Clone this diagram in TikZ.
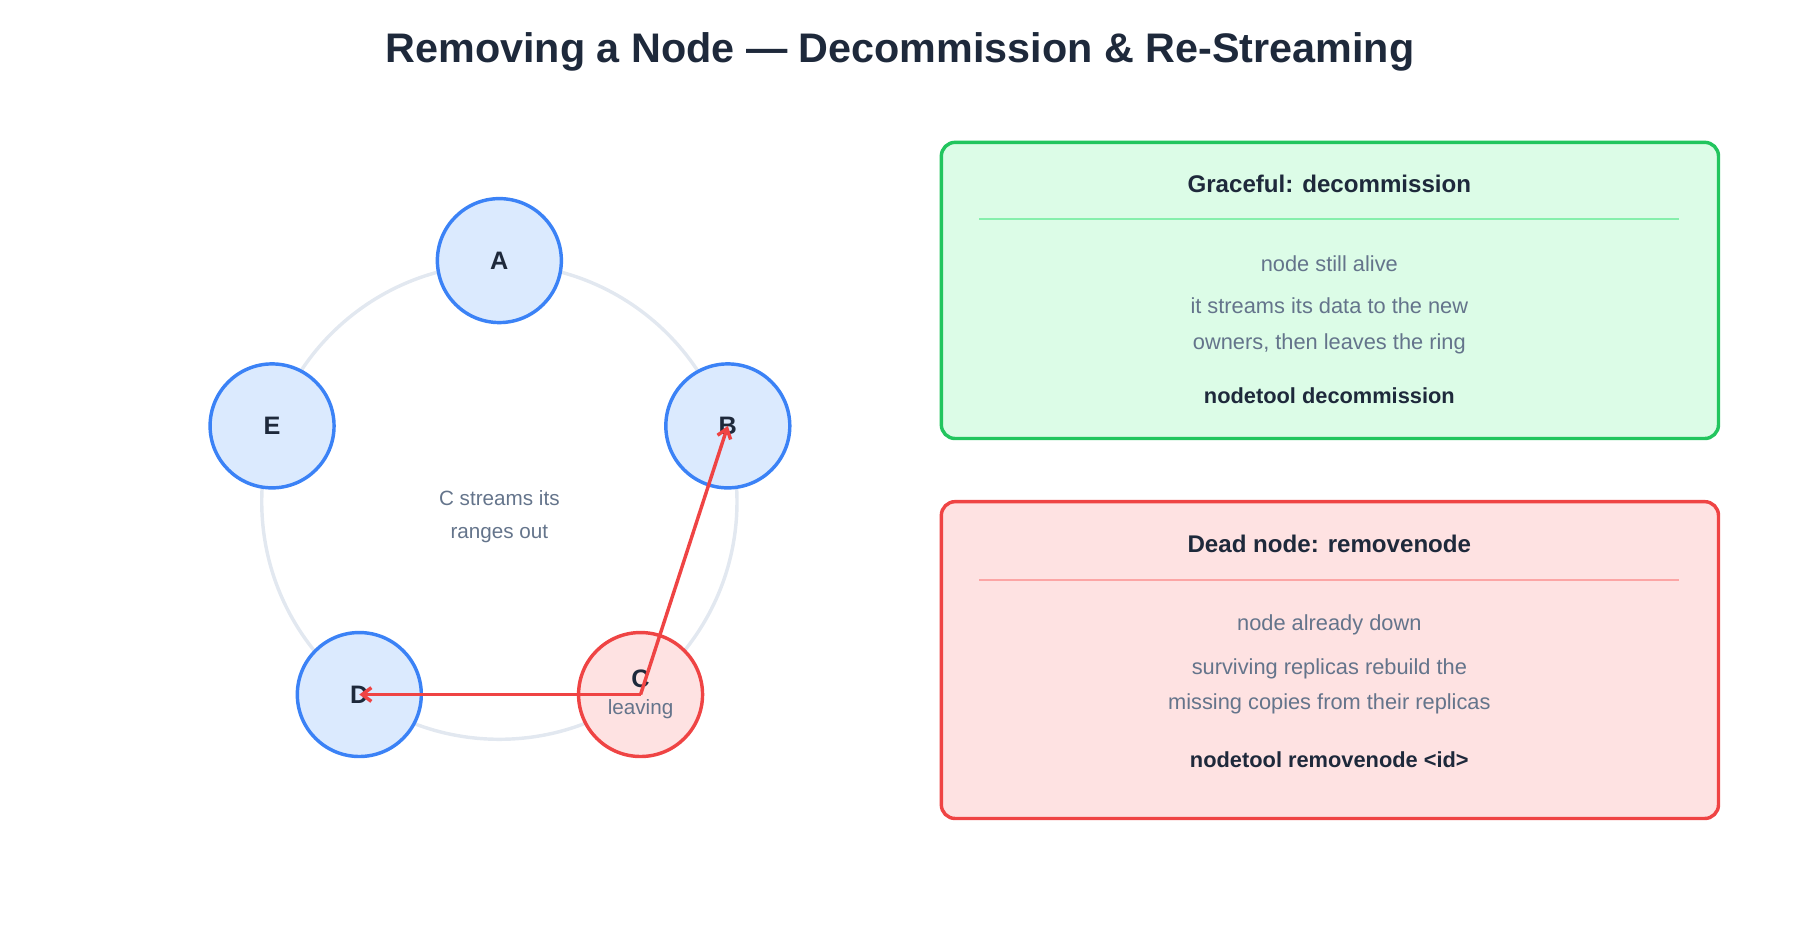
\documentclass[tikz,border=0pt]{standalone}
\usepackage{fontspec}
\setmainfont{Liberation Sans}
\usetikzlibrary{arrows.meta}
\definecolor{ringGray}{HTML}{E2E8F0}
\definecolor{nodeBlue}{HTML}{3B82F6}
\definecolor{nodeBlueFill}{HTML}{DBEAFE}
\definecolor{nodeRed}{HTML}{EF4444}
\definecolor{nodeRedFill}{HTML}{FEE2E2}
\definecolor{boxGreen}{HTML}{22C55E}
\definecolor{boxGreenFill}{HTML}{DCFCE7}
\definecolor{ruleGreen}{HTML}{86EFAC}
\definecolor{ruleRed}{HTML}{FCA5A5}
\definecolor{textGray}{HTML}{64748B}
\definecolor{textDark}{HTML}{1E293B}
\begin{document}
\begin{tikzpicture}[x=1pt, y=-1pt,
    ringNode/.style={circle, draw=nodeBlue, fill=nodeBlueFill, line width=3pt, minimum size=108pt, inner sep=0pt, font=\fontsize{22}{26}\selectfont\bfseries, text=textDark},
    leaveNode/.style={ringNode, draw=nodeRed, fill=nodeRedFill},
    stream/.style={draw=nodeRed, line width=3pt, -{Straight Barb[length=8pt, width=12pt]}},
    infoBox/.style={rounded corners=12pt, line width=3pt},
    boxTitle/.style={font=\fontsize{21}{25}\selectfont\bfseries, text=textDark},
    boxText/.style={font=\fontsize{19}{31}\selectfont, text=textGray, align=center},
    boxCmd/.style={font=\fontsize{19}{23}\selectfont\bfseries, text=textDark}]
    \useasboundingbox (0,0) rectangle (1568,819);

    \node[font=\fontsize{36}{40}\selectfont\bfseries, text=textDark] (title) at (784,45) {Removing a Node — Decommission \& Re-Streaming};

    % ring
    \draw[ringGray, line width=3pt] (435,437) circle (207);
    \node[ringNode] (A) at (435,227) {A};
    \node[ringNode] (B) at (634,371) {B};
    \node[leaveNode, align=center] (C) at (558,605) {C\\[-2pt]{\fontsize{18}{20}\selectfont\mdseries\textcolor{textGray}{leaving}}};
    \node[ringNode] (D) at (313,605) {D};
    \node[ringNode] (E) at (237,371) {E};
    \node[boxText, font=\fontsize{18}{28}\selectfont] (note) at (435,450) {C streams its\\ranges out};

    \coordinate (cSrc) at (558,605);
    \draw[stream] (cSrc) -- (B.center);
    \draw[stream] (cSrc) -- (D.center);

    % graceful box
    \draw[infoBox, draw=boxGreen, fill=boxGreenFill] (820,124) rectangle (1497,382);
    \node[boxTitle] (gTitle) at (1158,160) {Graceful: decommission};
    \coordinate (gL) at (853,191);
    \coordinate (gR) at (1463,191);
    \draw[ruleGreen, line width=1.5pt] (gL) -- (gR);
    \node[boxText] (gText1) at (1158,230) {node still alive};
    \node[boxText] (gText2) at (1158,284) {it streams its data to the new\\owners, then leaves the ring};
    \node[boxCmd] (gCmd) at (1158,345) {nodetool decommission};

    % dead node box
    \draw[infoBox, draw=nodeRed, fill=nodeRedFill] (820,437) rectangle (1497,713);
    \node[boxTitle] (rTitle) at (1158,474) {Dead node: removenode};
    \coordinate (rL) at (853,505);
    \coordinate (rR) at (1463,505);
    \draw[ruleRed, line width=1.5pt] (rL) -- (rR);
    \node[boxText] (rText1) at (1158,544) {node already down};
    \node[boxText] (rText2) at (1158,598) {surviving replicas rebuild the\\missing copies from their replicas};
    \node[boxCmd] (rCmd) at (1158,662) {nodetool removenode <id>};
\end{tikzpicture}
\end{document}
